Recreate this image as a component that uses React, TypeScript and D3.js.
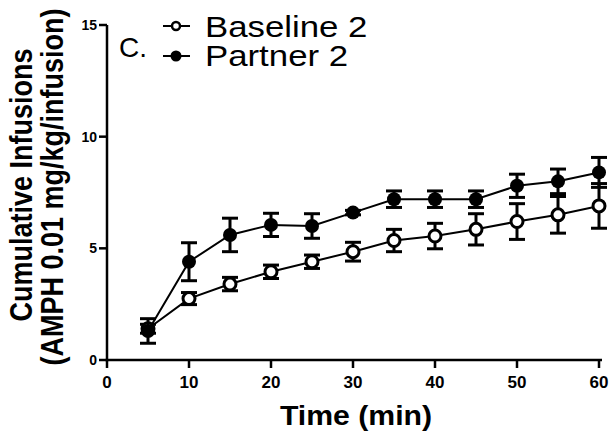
import React from "react";
import * as d3 from "d3";

const times = [5, 10, 15, 20, 25, 30, 35, 40, 45, 50, 55, 60];
const baselineMean = [1.4, 2.75, 3.4, 3.95, 4.4, 4.85, 5.35, 5.55, 5.85, 6.2, 6.5, 6.9];
const baselineErr = [0.2, 0.27, 0.3, 0.3, 0.3, 0.42, 0.5, 0.57, 0.7, 0.8, 0.82, 1.0];
const partnerMean = [1.3, 4.4, 5.6, 6.05, 6.0, 6.6, 7.2, 7.2, 7.2, 7.8, 8.0, 8.4];
const partnerErr = [0.55, 0.85, 0.75, 0.52, 0.55, 0.1, 0.37, 0.37, 0.37, 0.52, 0.55, 0.67];
const xTicks = [0, 10, 20, 30, 40, 50, 60];
const yTicks = [0, 5, 10, 15];
const seriesNames = ["Baseline 2", "Partner 2"];
const panelLabel = "C.";
const xTitle = "Time (min)";
const yTitle1 = "Cumulative Infusions";
const yTitle2 = "(AMPH 0.01 mg/kg/infusion)";

const W = 613;
const H = 437;
const FONT = "'Liberation Sans', Arial, sans-serif";

export default function App() {
  const x = d3.scaleLinear().domain([0, 60]).range([107, 599]);
  const y = d3.scaleLinear().domain([0, 15]).range([360, 25]);
  const line = d3
    .line<[number, number]>()
    .x((d) => x(d[0]))
    .y((d) => y(d[1]));

  const bData: [number, number][] = times.map((t, i) => [t, baselineMean[i]]);
  const pData: [number, number][] = times.map((t, i) => [t, partnerMean[i]]);

  const capW = 8;
  const errBars = (means: number[], errs: number[], key: string) =>
    times.map((t, i) => {
      const cx = x(t);
      const y1 = y(means[i] + errs[i]);
      const y2 = y(means[i] - errs[i]);
      return (
        <g key={key + i} stroke="#000" strokeWidth={3}>
          <line x1={cx} x2={cx} y1={y1} y2={y2} />
          <line x1={cx - capW} x2={cx + capW} y1={y1} y2={y1} />
          <line x1={cx - capW} x2={cx + capW} y1={y2} y2={y2} />
        </g>
      );
    });

  return (
    <svg
      width={W}
      height={H}
      style={{ position: "absolute", left: 0, top: 0, background: "#fff" }}
      fontFamily={FONT}
    >
      {/* axes */}
      <line x1={x(0)} x2={x(0)} y1={y(15)} y2={y(0) + 1.25} stroke="#000" strokeWidth={2.5} />
      <line x1={x(0) - 1.25} x2={602} y1={y(0)} y2={y(0)} stroke="#000" strokeWidth={2.5} />
      {yTicks.map((t) => (
        <g key={"yt" + t}>
          <line x1={x(0) - 8} x2={x(0)} y1={y(t)} y2={y(t)} stroke="#000" strokeWidth={2.5} />
          <text
            x={97}
            y={y(t)}
            dy="0.36em"
            textAnchor="end"
            fontSize={14}
            fontWeight="bold"
          >
            {t}
          </text>
        </g>
      ))}
      {xTicks.map((t) => (
        <g key={"xt" + t}>
          <line x1={x(t)} x2={x(t)} y1={y(0)} y2={y(0) + 8} stroke="#000" strokeWidth={2.5} />
          <text x={x(t)} y={388} textAnchor="middle" fontSize={17} fontWeight="bold">
            {t}
          </text>
        </g>
      ))}
      <text
        transform="translate(356,425) scale(1.08,1)"
        textAnchor="middle"
        fontSize={28}
        fontWeight="bold"
      >
        {xTitle}
      </text>
      <text
        transform="translate(32,185) scale(1.15,1) rotate(-90)"
        textAnchor="middle"
        fontSize={27}
        fontWeight="bold"
      >
        {yTitle1}
      </text>
      <text
        transform="translate(63,187) scale(1.15,1) rotate(-90)"
        textAnchor="middle"
        fontSize={27}
        fontWeight="bold"
      >
        {yTitle2}
      </text>

      {/* baseline series */}
      <path d={line(bData) || ""} fill="none" stroke="#000" strokeWidth={2} />
      {errBars(baselineMean, baselineErr, "be")}
      {bData.map((d, i) => (
        <circle key={"bc" + i} cx={x(d[0])} cy={y(d[1])} r={6} fill="#fff" stroke="#000" strokeWidth={3} />
      ))}

      {/* partner series */}
      <path d={line(pData) || ""} fill="none" stroke="#000" strokeWidth={2} />
      {errBars(partnerMean, partnerErr, "pe")}
      {pData.map((d, i) => (
        <circle key={"pc" + i} cx={x(d[0])} cy={y(d[1])} r={7} fill="#000" />
      ))}

      {/* legend */}
      <text transform="translate(119,57)" fontSize={28}>
        {panelLabel}
      </text>
      <line x1={163} x2={190} y1={26} y2={26} stroke="#000" strokeWidth={2} />
      <circle cx={176} cy={26} r={4} fill="#fff" stroke="#000" strokeWidth={2.5} />
      <line x1={163} x2={190} y1={56} y2={56} stroke="#000" strokeWidth={2} />
      <circle cx={176} cy={56} r={5.5} fill="#000" />
      <text transform="translate(205,37) scale(1.16,1)" fontSize={30}>
        {seriesNames[0]}
      </text>
      <text transform="translate(205,66) scale(1.16,1)" fontSize={30}>
        {seriesNames[1]}
      </text>
    </svg>
  );
}
